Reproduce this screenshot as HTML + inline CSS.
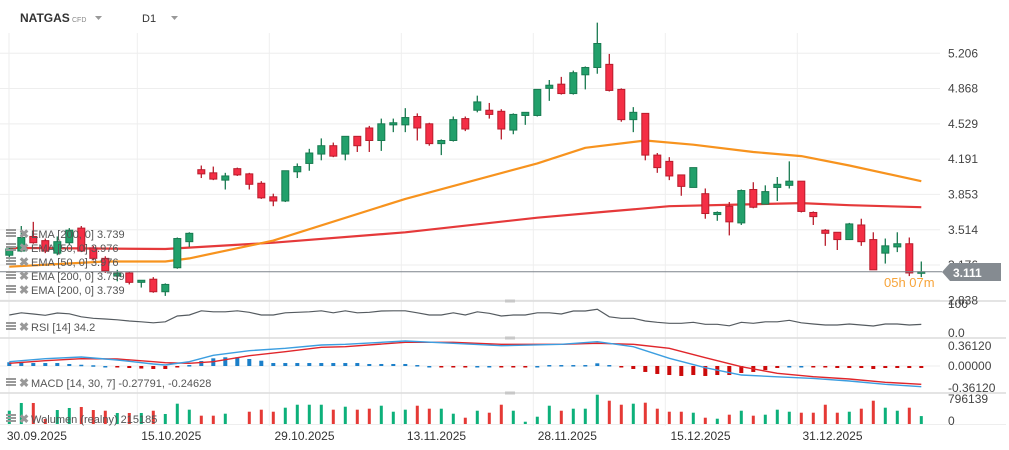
<!DOCTYPE html>
<html><head><meta charset="utf-8">
<style>
html,body{margin:0;padding:0;background:#fff;}
body{width:1009px;height:450px;overflow:hidden;font-family:"Liberation Sans",sans-serif;position:relative;}
svg{position:absolute;left:0;top:0;}
text{font-family:"Liberation Sans",sans-serif;}
</style></head>
<body>
<svg id="chart" width="1009" height="450" viewBox="0 0 1009 450" xmlns="http://www.w3.org/2000/svg"></svg>
<script>
const opens=[3.27,3.31,3.45,3.41,3.29,3.39,3.53,3.34,3.24,3.07,3.10,3.01,3.04,2.92,3.15,3.40,4.09,4.06,3.99,4.10,4.05,3.96,3.83,3.79,4.07,4.15,4.24,4.32,4.24,4.41,4.49,4.37,4.52,4.52,4.60,4.53,4.34,4.37,4.58,4.66,4.66,4.65,4.47,4.61,4.61,4.87,4.91,4.82,5.00,5.07,5.10,4.86,4.57,4.63,4.23,4.17,4.04,3.92,3.86,3.66,3.74,3.58,3.90,3.76,3.92,3.94,3.98,3.68,3.51,3.49,3.42,3.56,3.42,3.29,3.35,3.38,3.10];
const highs=[3.35,3.55,3.59,3.43,3.45,3.53,3.55,3.36,3.26,3.13,3.11,3.03,3.06,3.00,3.44,3.49,4.13,4.12,4.06,4.11,4.06,3.98,3.86,4.08,4.15,4.29,4.39,4.35,4.41,4.41,4.51,4.58,4.58,4.68,4.63,4.54,4.38,4.60,4.60,4.80,4.73,4.67,4.63,4.64,4.86,4.95,4.98,5.04,5.08,5.50,5.20,4.87,4.69,4.63,4.25,4.21,4.04,4.11,3.91,3.69,3.78,3.90,3.97,3.94,4.02,4.17,3.98,3.69,3.52,3.49,3.58,3.62,3.49,3.43,3.49,3.44,3.21];
const lows=[3.23,3.30,3.38,3.29,3.27,3.37,3.30,3.22,3.10,3.02,2.99,2.96,2.91,2.88,3.14,3.35,4.01,3.99,3.90,4.03,3.90,3.81,3.74,3.78,4.01,4.08,4.18,4.21,4.18,4.26,4.26,4.27,4.45,4.45,4.37,4.32,4.23,4.36,4.46,4.64,4.58,4.38,4.43,4.52,4.60,4.75,4.81,4.81,4.86,5.01,4.84,4.55,4.45,4.18,4.06,3.99,3.84,3.92,3.62,3.60,3.46,3.56,3.72,3.76,3.79,3.91,3.68,3.56,3.36,3.32,3.42,3.36,3.13,3.19,3.30,3.07,3.06];
const closes=[3.33,3.44,3.39,3.31,3.40,3.51,3.31,3.24,3.12,3.10,3.01,3.03,2.92,2.99,3.43,3.48,4.05,4.00,4.03,4.04,3.95,3.82,3.79,4.08,4.12,4.25,4.32,4.22,4.41,4.32,4.37,4.53,4.54,4.59,4.49,4.34,4.37,4.57,4.48,4.74,4.62,4.48,4.62,4.64,4.86,4.90,4.82,5.02,5.07,5.30,4.85,4.57,4.64,4.23,4.11,4.03,3.93,4.11,3.67,3.68,3.59,3.89,3.73,3.88,3.95,3.98,3.69,3.64,3.48,3.42,3.57,3.40,3.13,3.36,3.38,3.10,3.111];
const volumes=[361000,571000,571000,136000,380000,435000,462000,380000,361000,299000,299000,299000,361000,272000,552000,389000,226000,226000,280000,0,334000,389000,334000,443000,524000,524000,524000,389000,470000,389000,416000,497000,334000,389000,497000,416000,416000,280000,171000,361000,307000,524000,361000,62000,198000,497000,361000,416000,416000,796139,633000,524000,552000,579000,416000,334000,334000,307000,171000,144000,253000,361000,226000,253000,389000,334000,307000,307000,524000,307000,334000,416000,633000,443000,361000,443000,215185];
const ema50Idx=[0,8,13,15,22,33,44,48,53,57,62,66,70,76];
const ema50Val=[3.16,3.21,3.21,3.24,3.41,3.81,4.15,4.30,4.37,4.33,4.26,4.22,4.13,3.98];
const ema200Idx=[0,13,22,33,44,50,55,66,70,76];
const ema200Val=[3.34,3.33,3.39,3.49,3.63,3.69,3.74,3.77,3.75,3.73];
const rsiVals=[72,81,76,71,80,77,65,59,56,53,48,45,41,45,68,72,89,85,85,89,83,72,72,81,83,85,89,81,89,81,83,88,89,89,81,72,72,81,72,85,79,68,72,72,81,81,76,88,88,95,65,59,59,48,43,39,39,43,35,35,29,43,39,45,45,51,41,36,32,32,36,32,28,36,36,32,34.2];
const macdIdx=[0,3,6,9,12,13,15,17,20,23,26,28,33,37,41,46,49,52,55,58,61,64,67,70,73,76];
const macdVals=[0.058,0.098,0.121,0.081,0.027,0.013,0.058,0.144,0.205,0.238,0.282,0.291,0.336,0.305,0.272,0.291,0.326,0.259,0.103,-0.023,-0.121,-0.145,-0.166,-0.201,-0.246,-0.278];
const signalVals=[0.036,0.071,0.098,0.094,0.058,0.044,0.036,0.058,0.138,0.192,0.251,0.259,0.318,0.318,0.291,0.291,0.305,0.291,0.238,0.111,-0.009,-0.098,-0.144,-0.174,-0.219,-0.246];
const histVals=[0.05,0.054,0.04,0.04,0.04,0.027,0.017,0.01,0,-0.013,-0.027,-0.034,-0.04,-0.04,-0.013,0.013,0.067,0.103,0.117,0.117,0.094,0.071,0.04,0.04,0.04,0.04,0.04,0.04,0.04,0.04,0.027,0.027,0.027,0.027,0.013,0,-0.013,-0.013,-0.013,0,0,-0.013,-0.013,-0.013,0,0.013,0.013,0.013,0.013,0.036,0.013,-0.013,-0.04,-0.08,-0.107,-0.121,-0.134,-0.121,-0.134,-0.121,-0.121,-0.094,-0.08,-0.054,-0.027,0,0,-0.013,-0.017,-0.027,-0.027,-0.027,-0.04,-0.027,-0.027,-0.027,-0.027];
const priceTicks=[5.206,4.868,4.529,4.191,3.853,3.514,3.176,2.838];
const priceTickLabels=["5.206","4.868","4.529","4.191","3.853","3.514","3.176","2.838"];
const dateLabels=["30.09.2025","15.10.2025","29.10.2025","13.11.2025","28.11.2025","15.12.2025","31.12.2025"];
const dateLabelIdx=[2.3,13.5,24.6,35.6,46.5,57.6,68.6];
const gridIdx=[11,22,33,44,55,66];

const NS="http://www.w3.org/2000/svg";
const svg=document.getElementById('chart');
function mk(tag,attrs,parent){const e=document.createElementNS(NS,tag);for(const k in attrs)e.setAttribute(k,attrs[k]);(parent||svg).appendChild(e);return e;}
function xS(i){return 9.3+12*i;}
function yP(p){return 53.3+(5.206-p)*104.3;}
function yR(r){return 333-r*0.25;}
function yM(v){return 366-v*74.5;}
function yV(v){return 424-v/27172;}
const GREEN="#22a06b",GREEN_B="#187a50",RED="#f42e45",RED_B="#b81c2c";

// grid
const grid=mk('g',{});


priceTicks.forEach(p=>{const l=mk('line',{x1:0,x2:940,y1:yP(p),y2:yP(p),stroke:"#eeeeee","stroke-width":1},grid);

});
mk('line',{x1:9,x2:9,y1:33,y2:426,stroke:"#eeeeee"},grid);
gridIdx.forEach(i=>{const l=mk('line',{x1:xS(i)-4,x2:xS(i)-4,y1:33,y2:426,stroke:"#eeeeee"},grid);

});
[301,338,393].forEach(y=>{const l=mk('line',{x1:0,x2:1006,y1:y,y2:y,stroke:"#dcdcdc","stroke-width":1.5},grid);


const h=mk('rect',{x:505,y:y-1.5,width:10,height:3,fill:"#c8c8c8"},grid);

});
mk('line',{x1:0,x2:1006,y1:424.5,y2:424.5,stroke:"#eeeeee"},grid);
mk('line',{x1:0,x2:940,y1:366,y2:366,stroke:"#eeeeee"},grid);

// EMA lines
function emaPath(idx,vals,color,name){const d=idx.map((i,k)=>(k?'L':'M')+xS(i).toFixed(1)+','+yP(vals[k]).toFixed(1)).join(' ');
const p=mk('path',{d:d,fill:'none',stroke:color,'stroke-width':2.2,'stroke-linejoin':'round'});return p;}
const e200=emaPath(ema200Idx,ema200Val,"#e5393a");


const e50=emaPath(ema50Idx,ema50Val,"#f7931e");



// candles
const cg=mk('g',{});


opens.forEach((o,i)=>{const c=closes[i],up=c>=o,x=xS(i);
const g=mk('g',{},cg);


mk('line',{x1:x,x2:x,y1:yP(highs[i]),y2:yP(lows[i]),stroke:up?GREEN_B:RED_B,'stroke-width':1.3},g);
const t=Math.min(yP(o),yP(c)),h=Math.max(1.5,Math.abs(yP(o)-yP(c)));
mk('rect',{x:x-3.5,y:t,width:7,height:h,fill:up?GREEN:RED,stroke:up?GREEN_B:RED_B,'stroke-width':1},g);});

// current price line
const pl=mk('line',{x1:0,x2:942,y1:yP(3.111),y2:yP(3.111),stroke:"#7d848b","stroke-width":1});



// RSI
const rd=rsiVals.map((r,i)=>(i?'L':'M')+xS(i).toFixed(1)+','+yR(r).toFixed(1)).join(' ');
const rp=mk('path',{d:rd,fill:'none',stroke:'#555b60','stroke-width':1.2});



// MACD histogram
histVals.forEach((v,i)=>{const y0=yM(0),y1=yM(v);
const r=mk('rect',{x:xS(i)-2,y:Math.min(y0,y1),width:4,height:Math.max(1.5,Math.abs(y1-y0)),fill:v>=0?'#1b7fc9':'#cc0a0a'});

});
const md=macdIdx.map((i,k)=>(k?'L':'M')+xS(i).toFixed(1)+','+yM(macdVals[k]).toFixed(1)).join(' ');
const sd=macdIdx.map((i,k)=>(k?'L':'M')+xS(i).toFixed(1)+','+yM(signalVals[k]).toFixed(1)).join(' ');
const sp=mk('path',{d:sd,fill:'none',stroke:'#e0262b','stroke-width':1.4});


const mp=mk('path',{d:md,fill:'none',stroke:'#3c9ee0','stroke-width':1.4});



// Volume
volumes.forEach((v,i)=>{const up=closes[i]>=opens[i];
const r=mk('rect',{x:xS(i)-1.5,y:yV(v),width:3,height:424-yV(v),fill:up?'#0db07a':'#e53935'});

});

// text helper
function tx(s,x,y,o){const t=mk('text',Object.assign({x:x,y:y,'font-size':12,fill:'#444'},o||{}));t.textContent=s;return t;}

// right axis labels
priceTicks.forEach((p,k)=>{const t=tx(priceTickLabels[k],948,yP(p)+4,{});

});
const axisExtra=[["100",308],["0.0",337],["0.36120",350],["0.00000",370],["-0.36120",392],["796139",403],["0",425]];
axisExtra.forEach(a=>{const t=tx(a[0],948,a[1],{});

});

// price tag
const tag=mk('polygon',{points:"942,272 950,263 1001,263 1001,281 950,281",fill:'#858b91'});


const tt=tx("3.111",953,277,{fill:'#fff','font-weight':'bold'});


const cd=tx("05h 07m",884,287,{fill:'#f7a43a','font-size':13});



// date labels
dateLabels.forEach((d,k)=>{const t=tx(d,xS(dateLabelIdx[k]),440,{'text-anchor':'middle',fill:'#333'});

});

// legends
function legend(label,y,name){const g=mk('g',{});


mk('rect',{x:6,y:y-8,width:10,height:2,fill:'#999'},g);
mk('rect',{x:6,y:y-5,width:10,height:2,fill:'#999'},g);
mk('rect',{x:6,y:y-2,width:10,height:2,fill:'#999'},g);
const x=mk('text',{x:19,y:y+1,'font-size':12,fill:'#999','font-weight':'bold'},g);x.textContent='✖';
const t=mk('text',{x:31,y:y+1,'font-size':11,fill:'#555'},g);t.textContent=label;return g;}
legend("EMA  [200,  0]  3.739",237,'legend-ema-200');
legend("EMA  [50,  0]  3.976",251,'legend-ema-50');
legend("EMA  [50,  0]  3.976",265,'legend-ema-50-2');
legend("EMA  [200,  0]  3.739",279,'legend-ema-200-2');
legend("EMA  [200,  0]  3.739",293,'legend-ema-200-3');
legend("RSI  [14]  34.2",330,'legend-rsi');
legend("MACD  [14,  30,  7]  -0.27791,  -0.24628",386,'legend-macd');
legend("Wolumen  (realny)  215185",422,'legend-volume');

// header
const sym=tx("NATGAS",20,22,{'font-weight':'bold',fill:'#333','font-size':12});


const cfd=tx("CFD",72,22,{'font-size':7,fill:'#888'});


const d1=mk('polygon',{points:"95,16 102,16 98.5,20",fill:'#999'});


const tf=tx("D1",142,22,{'font-size':11,fill:'#333'});


const d2=mk('polygon',{points:"171,16 178,16 174.5,20",fill:'#999'});


</script>
</body></html>
